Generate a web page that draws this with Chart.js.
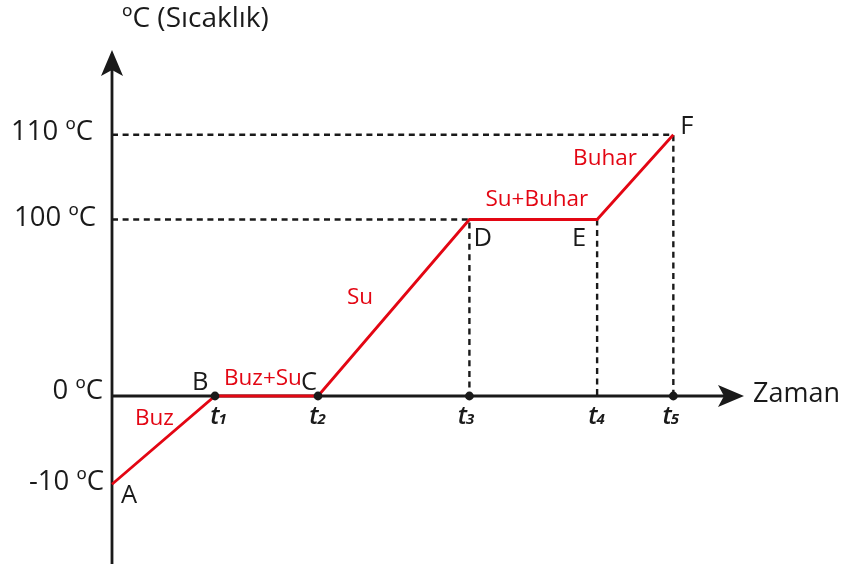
<!DOCTYPE html>
<html>
<head>
<meta charset="utf-8">
<script src="https://cdn.jsdelivr.net/npm/chart.js@4/dist/chart.umd.min.js"></script>
<style>
  html, body { margin: 0; padding: 0; background: #ffffff; }
  #wrap { width: 842px; height: 564px; }
</style>
</head>
<body>
<div id="wrap"><canvas id="c" width="842" height="564"></canvas></div>
<script>
// ---------- DATA ----------
const pointNames = ['A', 'B', 'C', 'D', 'E', 'F'];
const times = [0, 1, 2, 3.47, 4.71, 5.45];          // relative time of each point
const temps = [-10, 0, 0, 100, 100, 110];           // temperature (ºC) of each point
const tempTicks = [-10, 0, 100, 110];
const tempTickLabels = ['-10 ºC', '0 ºC', '100 ºC', '110 ºC'];
const timeTickIndex = [1, 2, 3, 4, 5];              // t1..t5 are the times of B..F
const timeTickSubs = ['1', '2', '3', '4', '5'];
const timeDots = [1, 2, 3, 5];                      // ticks that carry a dot
const phaseLabels = ['Buz', 'Buz+Su', 'Su', 'Su+Buhar', 'Buhar'];
const yTitle = 'ºC (Sıcaklık)';
const xTitle = 'Zaman';

// ---------- schematic (broken) temperature axis ----------
const tickLevels = [-1, 0, 2, 2.96];
function level(t) {
  for (let i = 0; i < tempTicks.length - 1; i++) {
    const a = tempTicks[i], b = tempTicks[i + 1];
    if (t <= b || i === tempTicks.length - 2) {
      return tickLevels[i] + (t - a) / (b - a) * (tickLevels[i + 1] - tickLevels[i]);
    }
  }
}

const RED = '#e30613';
const INK = '#1a1a1a';
const FONT = '"Open Sans", "Noto Sans", sans-serif';

const linePts = times.map((x, i) => ({ x: x, y: level(temps[i]) }));
const iD = 3, iE = 4, iF = 5;
const guidePts = [
  { x: 0, y: level(temps[iD]) }, { x: times[iD], y: level(temps[iD]) }, { x: times[iD], y: 0 },
  { x: times[iD], y: null },
  { x: times[iE], y: level(temps[iE]) }, { x: times[iE], y: 0 },
  { x: times[iE], y: null },
  { x: 0, y: level(temps[iF]) }, { x: times[iF], y: level(temps[iF]) }, { x: times[iF], y: 0 }
];
const dotPts = timeDots.map(k => ({ x: times[k], y: 0 }));

function arrow(ctx, tipX, tipY, dir) {
  const L = 26, H = 11, N = 20;
  ctx.beginPath();
  if (dir === 'up') {
    ctx.moveTo(tipX, tipY);
    ctx.lineTo(tipX - H, tipY + L);
    ctx.lineTo(tipX, tipY + N);
    ctx.lineTo(tipX + H, tipY + L);
  } else {
    ctx.moveTo(tipX, tipY);
    ctx.lineTo(tipX - L, tipY - H);
    ctx.lineTo(tipX - N, tipY);
    ctx.lineTo(tipX - L, tipY + H);
  }
  ctx.closePath();
  ctx.fillStyle = INK;
  ctx.fill();
}

const axesPlugin = {
  id: 'axesPlugin',
  beforeDatasetsDraw(chart) {
    const ctx = chart.ctx, xs = chart.scales.x, ys = chart.scales.y, a = chart.chartArea;
    const x0 = xs.getPixelForValue(0), y0 = ys.getPixelForValue(0);
    ctx.save();
    ctx.strokeStyle = INK;
    ctx.lineWidth = 2.8;
    ctx.beginPath();
    ctx.moveTo(x0, chart.height);
    ctx.lineTo(x0, a.top + 20);
    ctx.moveTo(x0, y0);
    ctx.lineTo(a.right - 20, y0);
    ctx.stroke();
    arrow(ctx, x0, a.top, 'up');
    arrow(ctx, a.right, y0, 'right');
    ctx.restore();
  },
  afterDraw(chart) {
    const ctx = chart.ctx, xs = chart.scales.x, ys = chart.scales.y, a = chart.chartArea;
    const px = i => xs.getPixelForValue(times[i]);
    const py = i => ys.getPixelForValue(level(temps[i]));
    ctx.save();
    ctx.textBaseline = 'alphabetic';

    // axis titles
    ctx.fillStyle = INK;
    ctx.textAlign = 'left';
    ctx.font = '28px ' + FONT;
    ctx.fillText(yTitle, 122, 27);
    ctx.font = '27px ' + FONT;
    ctx.fillText(xTitle, a.right + 9, ys.getPixelForValue(0) + 6);

    // temperature tick labels
    ctx.font = '27.5px ' + FONT;
    ctx.textAlign = 'right';
    const tickRight = [104, 103, 96, 93];
    const tickDy = [5.5, 3.5, 6.5, 5.5];
    tempTicks.forEach((t, i) => {
      ctx.fillText(tempTickLabels[i], tickRight[i], ys.getPixelForValue(level(t)) + tickDy[i]);
    });

    // time tick labels t1..t5
    const y0 = ys.getPixelForValue(0);
    const tDx = [4, 0, -3, 0, -2];
    timeTickIndex.forEach((k, i) => {
      ctx.font = 'italic 600 25px ' + FONT;
      const w1 = ctx.measureText('t').width;
      ctx.font = 'italic bold 15px ' + FONT;
      const w2 = ctx.measureText(timeTickSubs[i]).width;
      const start = px(k) + tDx[i] - (w1 + w2) / 2;
      ctx.textAlign = 'left';
      ctx.font = 'italic 600 25px ' + FONT;
      ctx.fillText('t', start, y0 + 28);
      ctx.font = 'italic bold 15px ' + FONT;
      ctx.fillText(timeTickSubs[i], start + w1 - 1, y0 + 28);
    });

    // point letters
    ctx.font = '25.5px ' + FONT;
    ctx.textAlign = 'left';
    const letterOff = [[9, 19], [-23, -6], [-17, -6], [4, 26], [-25, 26], [7, -0.5]];
    pointNames.forEach((n, i) => {
      ctx.fillText(n, px(i) + letterOff[i][0], py(i) + letterOff[i][1]);
    });

    // phase labels (red)
    ctx.fillStyle = RED;
    ctx.font = '22.5px ' + FONT;
    const phaseAnchor = [[1, -80, 29], [1, 9, -11], [2, 29, -92], [3, 16, -14], [4, -24, -55]];
    phaseLabels.forEach((s, i) => {
      const [k, dx, dy] = phaseAnchor[i];
      ctx.fillText(s, px(k) + dx, py(k) + dy);
    });
    ctx.restore();
  }
};

new Chart(document.getElementById('c'), {
  type: 'line',
  data: {
    datasets: [
      {
        label: 'dots',
        data: dotPts,
        showLine: false,
        pointRadius: 4.4,
        pointBackgroundColor: INK,
        pointBorderWidth: 0,
        clip: false
      },
      {
        label: 'Sıcaklık',
        data: linePts,
        borderColor: RED,
        borderWidth: 2.8,
        pointRadius: 0,
        tension: 0,
        clip: false
      },
      {
        label: 'guides',
        data: guidePts,
        borderColor: INK,
        borderWidth: 2.4,
        borderDash: [6, 4.6],
        pointRadius: 0,
        spanGaps: false,
        tension: 0,
        clip: false
      }
    ]
  },
  options: {
    responsive: false,
    animation: false,
    devicePixelRatio: 1,
    layout: { padding: { left: 112, right: 98, top: 50, bottom: 0 } },
    plugins: { legend: { display: false }, tooltip: { enabled: false } },
    events: [],
    scales: {
      x: { type: 'linear', display: false, min: 0, max: 6.136 },
      y: { type: 'linear', display: false, min: -1.854, max: 3.921 }
    }
  },
  plugins: [axesPlugin]
});
</script>
</body>
</html>
